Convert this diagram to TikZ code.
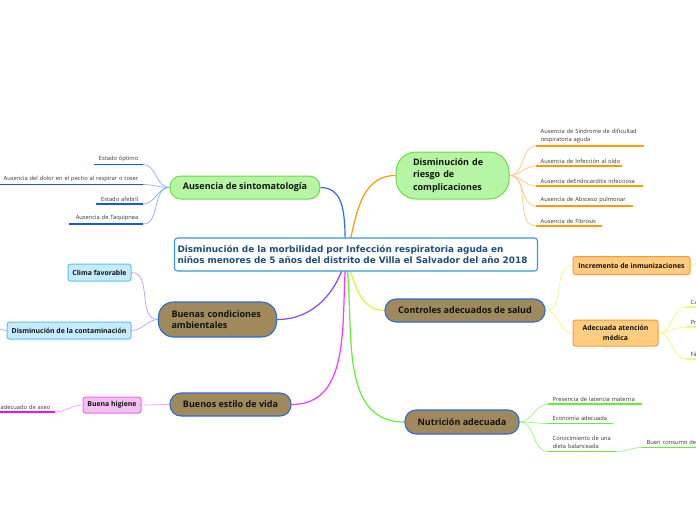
\documentclass[tikz,border=0pt]{standalone}
\usepackage{fontspec}
\setmainfont{Open Sans}
\newfontfamily\centerfont{DejaVu Sans}
\usetikzlibrary{backgrounds}
\definecolor{cblue}{HTML}{3399DD}
\definecolor{ctext}{HTML}{1F4E79}
\definecolor{gfill}{HTML}{B6F5A3}
\definecolor{gdraw}{HTML}{66DD44}
\definecolor{bfill}{HTML}{A08A5B}
\definecolor{bdraw}{HTML}{2B6BD6}
\definecolor{ofill}{HTML}{FFCC80}
\definecolor{odraw}{HTML}{FF9A33}
\definecolor{lbfill}{HTML}{C6EBFD}
\definecolor{lbdraw}{HTML}{5CC0EE}
\definecolor{pfill}{HTML}{F3C0F0}
\definecolor{pdraw}{HTML}{EE66EE}
\definecolor{blueM}{HTML}{3366FF}
\definecolor{blueL}{HTML}{8AAEFF}
\definecolor{blueU}{HTML}{1A55EE}
\definecolor{orM}{HTML}{FF9900}
\definecolor{orL}{HTML}{FFC77A}
\definecolor{yeM}{HTML}{DDF533}
\definecolor{yeL}{HTML}{E6FF7A}
\definecolor{grM}{HTML}{66EE33}
\definecolor{grL}{HTML}{99F57A}
\definecolor{maM}{HTML}{FF33FF}
\definecolor{maL}{HTML}{FF99FF}
\definecolor{maU}{HTML}{EE11EE}
\definecolor{puM}{HTML}{8844FF}
\definecolor{puL}{HTML}{BB99FF}
\definecolor{leafc}{HTML}{333333}
\definecolor{nodetext}{HTML}{111111}
\begin{document}
\begin{tikzpicture}[x=1pt,y=1pt,
  central/.style={draw=cblue, line width=1.1pt, fill=white, rounded corners=3pt, text=ctext,
    font=\centerfont\bfseries\fontsize{8.9}{11.8}\selectfont, align=left, text width=357pt,
    inner xsep=3pt, minimum height=33pt},
  gnode/.style={draw=gdraw, line width=1pt, fill=gfill, text=nodetext,
    font=\bfseries\fontsize{9}{12.8}\selectfont},
  bnode/.style={draw=bdraw, line width=1.1pt, fill=bfill, text=nodetext,
    font=\bfseries\fontsize{9}{12}\selectfont},
  subnode/.style={line width=1pt, rounded corners=2.5pt, text=nodetext,
    font=\bfseries\fontsize{6.9}{9.5}\selectfont, inner xsep=2pt},
  onode/.style={subnode, draw=odraw, fill=ofill},
  lbnode/.style={subnode, draw=lbdraw, fill=lbfill},
  pnode/.style={subnode, draw=pdraw, fill=pfill},
  leaf/.style={font=\fontsize{5.75}{8.6}\selectfont, text=leafc, inner xsep=4.5pt, inner ysep=2.5pt},
  leafL/.style={leaf, align=right, anchor=south east},
  leafR/.style={leaf, align=left, anchor=south west},
  mcon/.style={draw=#1, line width=1.2pt},
  lcon/.style={draw=#1, line width=0.7pt},
  uline/.style={draw=#1, line width=1.5pt}
]
\useasboundingbox (0,0) rectangle (696,-520);

% central
\node[central] (c) at (356,-254.5) {Disminución de la morbilidad por Infección respiratoria aguda en\\niños menores de 5 años del distrito de Villa el Salvador del año 2018};
\coordinate (hub) at (346,-258);

% main branches
\node[gnode, minimum width=150pt, minimum height=23pt, rounded corners=11pt] (aus) at (245,-187.5) {Ausencia de sintomatología};
\node[gnode, text width=79pt, inner xsep=17pt, minimum height=47pt, rounded corners=20pt, align=left] (rie) at (452.5,-175.5) {Disminución de\\riesgo de\\complicaciones};
\node[bnode, minimum width=160pt, minimum height=23pt, rounded corners=11pt] (ctrl) at (465,-310.5) {Controles adecuados de salud};
\node[bnode, minimum width=114pt, minimum height=24pt, rounded corners=11pt] (nut) at (462,-422) {Nutrición adecuada};
\node[bnode, minimum width=121pt, minimum height=23pt, rounded corners=11pt] (vida) at (230.5,-404.5) {Buenos estilo de vida};
\node[bnode, text width=92pt, inner xsep=13pt, minimum height=35pt, rounded corners=15pt, align=left, font=\bfseries\fontsize{9}{11.5}\selectfont] (amb) at (217.5,-319.5) {Buenas condiciones\\ambientales};

% sub nodes
\node[onode, minimum width=117pt, minimum height=18pt] (inc) at (631.5,-265.5) {Incremento de inmunizaciones};
\node[onode, minimum width=85pt, minimum height=26pt, align=center] (med) at (615.5,-333) {Adecuada atención\\médica};
\node[lbnode, minimum width=63pt, minimum height=17pt] (cli) at (99.5,-272.5) {Clima favorable};
\node[lbnode, minimum width=124pt, minimum height=17pt] (con) at (69,-330.5) {Disminución de la contaminación};
\node[pnode, minimum width=58pt, minimum height=16pt] (hig) at (112,-405) {Buena higiene};

% leaves: Ausencia de sintomatologia
\node[leafL, text width=40pt] (e1) at (143,-164.5) {\mbox{Estado óptimo}};
\node[leafL, text width=150pt] (e2) at (143,-184.5) {\mbox{Ausencia del dolor en el pecho al respirar o toser}};
\node[leafL, text width=38pt] (e3) at (143,-204) {\mbox{Estado afebril}};
\node[leafL, text width=65pt] (e4) at (143,-224) {\mbox{Ausencia de Taquipnea}};

% leaves: riesgo
\node[leafR, text width=99pt] (r1) at (536,-146) {\mbox{Ausencia de Síndrome de dificultad}\\respiratoria aguda};
\node[leafR, text width=77pt] (r2) at (536,-166) {\mbox{Ausencia de Infección al oído}};
\node[leafR, text width=98pt] (r3) at (536,-186) {\mbox{Ausencia deEndocarditis infecciosa}};
\node[leafR, text width=88pt] (r4) at (536,-206) {\mbox{Ausencia de Absceso pulmonar}};
\node[leafR, text width=57pt] (r5) at (536,-226) {\mbox{Ausencia de Fibrosis}};

% leaves: nutricion
\node[leafR, text width=85pt] (n1) at (548,-404) {\mbox{Presencia de latencia materna}};
\node[leafR, text width=56pt] (n2) at (548,-423.5) {\mbox{Economía adecuada}};
\node[leafR, text width=59pt] (n3) at (548,-451.5) {Conocimiento de una\\dieta balanceada};
\node[leafR, text width=60pt] (n4) at (642,-447.5) {\mbox{Buen consumo de}};

% leaves: atencion medica (cut at edge)
\node[leafR, text width=20pt] (m1) at (686,-307) {Ca};
\node[leafR, text width=20pt] (m2) at (686,-327) {Pr};
\node[leafR, text width=20pt] (m3) at (686,-359) {Fá};

% leaf: higiene
\node[leafL, text width=62pt] (a1) at (55,-412) {\mbox{adecuado de aseo}};

\coordinate (incout) at (700,-262);
\coordinate (conout) at (-5,-328);

\begin{scope}[on background layer]
\fill[white] (0,0) rectangle (696,-520);
% main connectors
\draw[mcon=blueM] (hub) to[out=95,in=0] (aus.east);
\draw[mcon=orM] (hub) to[out=75,in=180] (rie.west);
\draw[mcon=yeM] (hub) to[out=-70,in=180] (ctrl.west);
\draw[mcon=grM] (hub) to[out=-82,in=180] (nut.west);
\draw[mcon=maM] (hub) to[out=-95,in=0] (vida.east);
\draw[mcon=puM] (hub) to[out=-105,in=0] (amb.east);

% blue leaves
\foreach \l in {e1,e2,e3,e4}{
  \draw[lcon=blueL] (aus.west) to[out=180,in=0] (\l.south east);
  \draw[uline=blueU] (\l.south west) -- (\l.south east);
}
% orange leaves
\foreach \l in {r1,r2,r3,r4,r5}{
  \draw[lcon=orL] (rie.east) to[out=0,in=180] (\l.south west);
  \draw[uline=orM] (\l.south west) -- (\l.south east);
}
% green leaves
\foreach \l in {n1,n2,n3}{
  \draw[lcon=grL] (nut.east) to[out=0,in=180] (\l.south west);
  \draw[uline=grM] (\l.south west) -- (\l.south east);
}
\draw[lcon=grL] (n3.south east) to[out=0,in=180] (n4.south west);
\draw[uline=grM] (n4.south west) -- (n4.south east);

% yellow
\draw[lcon=yeL] (ctrl.east) to[out=0,in=180] (inc.west);
\draw[lcon=yeL] (ctrl.east) to[out=0,in=180] (med.west);
\draw[lcon=yeL] (inc.east) to[out=0,in=180] (incout);
\foreach \l in {m1,m2,m3}{
  \draw[lcon=yeL] (med.east) to[out=0,in=180] (\l.south west);
  \draw[uline=yeL] (\l.south west) -- (\l.south east);
}

% purple
\draw[lcon=puL] (amb.west) to[out=180,in=0] (cli.east);
\draw[lcon=puL] (amb.west) to[out=180,in=0] (con.east);
\draw[lcon=puL] (con.west) to[out=180,in=0] (conout);

% magenta
\draw[lcon=maL] (vida.west) to[out=180,in=0] (hig.east);
\draw[lcon=maL] (hig.west) to[out=180,in=0] (a1.south east);
\draw[uline=maU] (a1.south west) -- (a1.south east);
\end{scope}
\end{tikzpicture}
\end{document}
